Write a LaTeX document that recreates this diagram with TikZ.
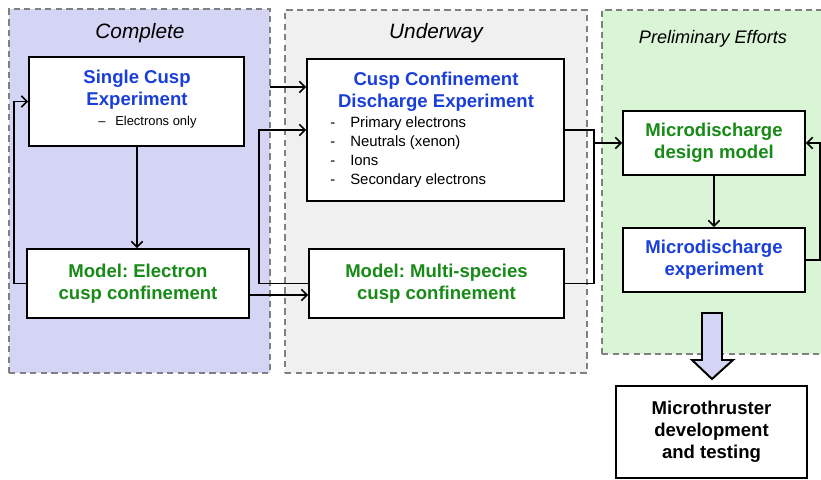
\documentclass[tikz,border=0pt]{standalone}
\usepackage{fontspec}
\setmainfont{Liberation Sans}
\usepackage{xcolor}
\usetikzlibrary{positioning,arrows.meta}
\definecolor{expblue}{RGB}{26,63,217}
\definecolor{modgreen}{RGB}{23,138,23}
\definecolor{donefill}{RGB}{212,212,244}
\definecolor{busyfill}{RGB}{240,240,240}
\definecolor{prelfill}{RGB}{218,244,214}
\frenchspacing
\tikzset{
  panel/.style={draw=gray,dash pattern=on 4.5pt off 3pt,line width=1pt},
  paneltitle/.style={font=\fontsize{14.8}{17}\selectfont\itshape},
  box/.style={draw,fill=white,line width=1.4pt,align=center,font=\fontsize{13.2}{15.6}\selectfont\bfseries},
  boxtitle/.style={align=center,font=\fontsize{13.2}{15.6}\selectfont\bfseries},
  listtext/.style={align=left,anchor=west,inner sep=0pt,font=\fontsize{10.6}{13.5}\selectfont},
  arr/.style={->,>={Straight Barb[length=4pt,width=8pt]},line width=1.1pt},
  link/.style={line width=1.1pt},
}

\begin{document}
\begin{tikzpicture}
    \useasboundingbox (0,0) rectangle (20.525,-11.975);
    % stages
    \node[panel,fill=donefill,minimum width=6.525cm,minimum height=9.1cm] (cplt) at (3.4875,-4.775) {};
    \node[panel,fill=busyfill,minimum width=7.55cm,minimum height=9.075cm] (undw) at (10.9,-4.7875) {};
    \node[panel,fill=prelfill,minimum width=5.575cm,minimum height=8.6cm] (prel) at (17.8375,-4.55) {};
    \node[paneltitle] (cplttitle) at (3.5,-0.825) {Complete};
    \node[paneltitle] (undwtitle) at (10.9,-0.825) {Underway};
    \node[paneltitle,font=\fontsize{12.9}{15}\selectfont\itshape] (preltitle) at (17.825,-0.975) {Preliminary Efforts};

    % complete
    \node[box,minimum width=5.375cm,minimum height=2.225cm] (single) at (3.4125,-2.5375) {};
    \node[boxtitle,text=expblue] (singletitle) at (3.425,-2.25) {Single Cusp\\Experiment};
    \node[listtext,font=\fontsize{9.2}{11}\selectfont] (singlenote) at (2.45,-3.05) {\makebox[0.425cm][l]{–}Electrons only};
    \node[box,text=modgreen,minimum width=5.55cm,minimum height=1.725cm] (emodel) at (3.45,-7.0875) {Model: Electron\\cusp confinement};

    % underway
    \node[box,minimum width=6.425cm,minimum height=3.55cm] (cce) at (10.8875,-3.25) {};
    \node[boxtitle,text=expblue] (ccetitle) at (10.9,-2.3) {Cusp Confinement\\Discharge Experiment};
    \node[listtext] (ccelist) at (8.25,-3.8125) {\makebox[0.5cm][l]{-}Primary electrons\\
        \makebox[0.5cm][l]{-}Neutrals (xenon)\\
        \makebox[0.5cm][l]{-}Ions\\
        \makebox[0.5cm][l]{-}Secondary electrons};
    \node[box,text=modgreen,minimum width=6.375cm,minimum height=1.725cm] (mmodel) at (10.9125,-7.0875) {Model: Multi-species\\cusp confinement};

    % preliminary
    \node[box,text=modgreen,minimum width=4.55cm,minimum height=1.6cm] (mdesign) at (17.85,-3.575) {Microdischarge\\design model};
    \node[box,text=expblue,minimum width=4.55cm,minimum height=1.6cm] (mexp) at (17.85,-6.5) {Microdischarge\\experiment};
    \node[box,minimum width=4.775cm,minimum height=2.3cm] (thruster) at (17.7875,-10.8) {Microthruster\\development\\and testing};

    \coordinate (s1) at (6.75,-2.175);
    \coordinate (bus) at (14.825,-3.575);

    \draw[arr] ([xshift=0.0125cm]single.south) -- ([xshift=0.0125cm]single.south |- emodel.north);
    \draw[arr] (emodel.west) -- ++(-0.3,0) |- (single.west);
    \draw[arr] (s1) -- (s1 -| cce.west);
    \draw[arr] ([yshift=-0.2875cm]emodel.east) -- ([yshift=-0.2875cm]mmodel.west);
    \draw[arr] (mmodel.west) -- ++(-1.225,0) |- (cce.west);
    \draw[link] (cce.east) -- ++(0.725,0) |- (mmodel.east);
    \draw[arr] (bus) -- (mdesign.west);
    \draw[arr] (mdesign.south) -- (mexp.north);
    \draw[arr] (mexp.east) -- ++(0.35,0) |- (mdesign.east);

    % block arrow down to the thruster
    \draw[line width=1.4pt,fill=donefill] (17.55,-7.825) -- (18.05,-7.825) -- (18.05,-9.0) -- (18.325,-9.0)
        -- (17.8,-9.475) -- (17.3,-9.0) -- (17.55,-9.0) -- cycle;
\end{tikzpicture}
\end{document}
